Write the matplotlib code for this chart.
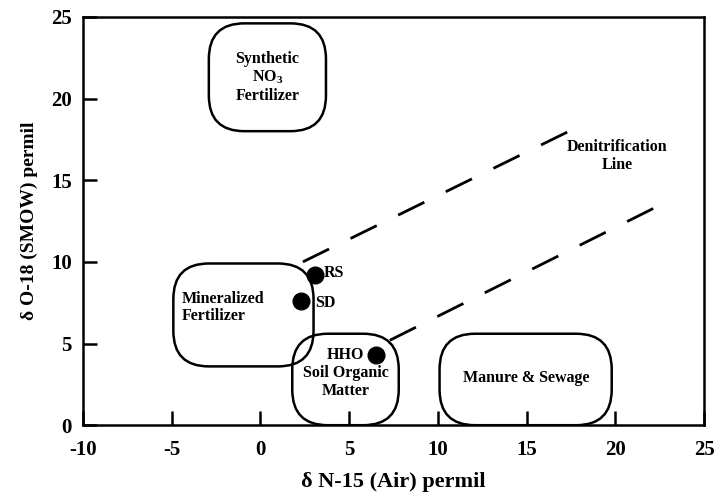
import matplotlib
matplotlib.use("Agg")
import matplotlib.pyplot as plt
from matplotlib.patches import FancyBboxPatch

plt.rcParams['font.family'] = ['Liberation Serif', 'DejaVu Serif']
plt.rcParams['font.weight'] = 'bold'
plt.rcParams['axes.unicode_minus'] = False
plt.rcParams['mathtext.fontset'] = 'custom'
plt.rcParams['mathtext.rm'] = 'Liberation Serif:bold'
plt.rcParams['mathtext.bf'] = 'Liberation Serif:bold'
plt.rcParams['mathtext.it'] = 'Liberation Serif:bold'

# source regions: label, x0, y0, x1, y1 (permil)
regions = ["Synthetic\nNO$_3$\nFertilizer", "Mineralized\nFertilizer",
           "HHO\nSoil Organic\nMatter", "Manure & Sewage"]
reg_x0 = [-2.9, -4.9, 1.8, 10.1]
reg_y0 = [18.0, 3.6, 0.0, 0.0]
reg_x1 = [3.7, 3.0, 7.8, 19.8]
reg_y1 = [24.6, 9.9, 5.6, 5.6]
reg_tx = [0.4, -4.4, 4.8, 15.0]
reg_ty = [21.3, 7.2, 3.2, 2.9]
reg_ha = ["center", "left", "center", "center"]

# samples
samples = ["RS", "SD", "HHO"]
d15n = [3.1, 2.3, 6.5]
d18o = [9.2, 7.6, 4.3]

# denitrification lines
den_x = [[2.4, 17.4], [7.3, 22.2]]
den_y = [[10.0, 18.0], [5.2, 13.3]]

fig = plt.figure(figsize=(7.14, 4.95), dpi=100)
ax = fig.add_axes([0.116, 0.141, 0.870, 0.825])

for i in range(len(regions)):
    box = FancyBboxPatch((reg_x0[i], reg_y0[i]), reg_x1[i] - reg_x0[i], reg_y1[i] - reg_y0[i],
                         boxstyle="round,pad=0,rounding_size=2.0", mutation_aspect=1.09,
                         fc="none", ec="black", lw=1.8, zorder=2)
    ax.add_patch(box)
    ax.text(reg_tx[i], reg_ty[i], regions[i], ha=reg_ha[i], va="center",
            fontsize=11.5, fontweight="bold", multialignment=reg_ha[i], linespacing=1.15)

for x, y in zip(den_x, den_y):
    ax.plot(x, y, color="black", lw=2, dashes=(10.5, 8.6))

ax.text(20.1, 16.5, "Denitrification\nLine", ha="center", va="center", fontsize=11.5,
        fontweight="bold", linespacing=1.15)

ax.plot(d15n, d18o, "o", color="black", ms=12, zorder=3)
ax.text(3.55, 9.3, "RS", ha="left", va="center", fontsize=11.5, fontweight="bold")
ax.text(3.1, 7.5, "SD", ha="left", va="center", fontsize=11.5, fontweight="bold")

ax.set_xlim(-10, 25)
ax.set_ylim(0, 25)
ax.set_xticks([-10, -5, 0, 5, 10, 15, 20, 25])
ax.set_yticks([0, 5, 10, 15, 20, 25])
ax.tick_params(direction="in", length=10, width=1.8, labelsize=15)
ax.tick_params(axis="x", pad=11)
ax.tick_params(axis="y", pad=8)
for lab in ax.get_xticklabels() + ax.get_yticklabels():
    lab.set_fontweight("bold")
for s in ax.spines.values():
    s.set_linewidth(1.8)

ax.set_xlabel("δ N-15 (Air) permil", fontsize=16, fontweight="bold", labelpad=8)
ax.set_ylabel("δ O-18 (SMOW) permil", fontsize=14, fontweight="bold", labelpad=9)

fig.savefig("out.png", dpi=100)
